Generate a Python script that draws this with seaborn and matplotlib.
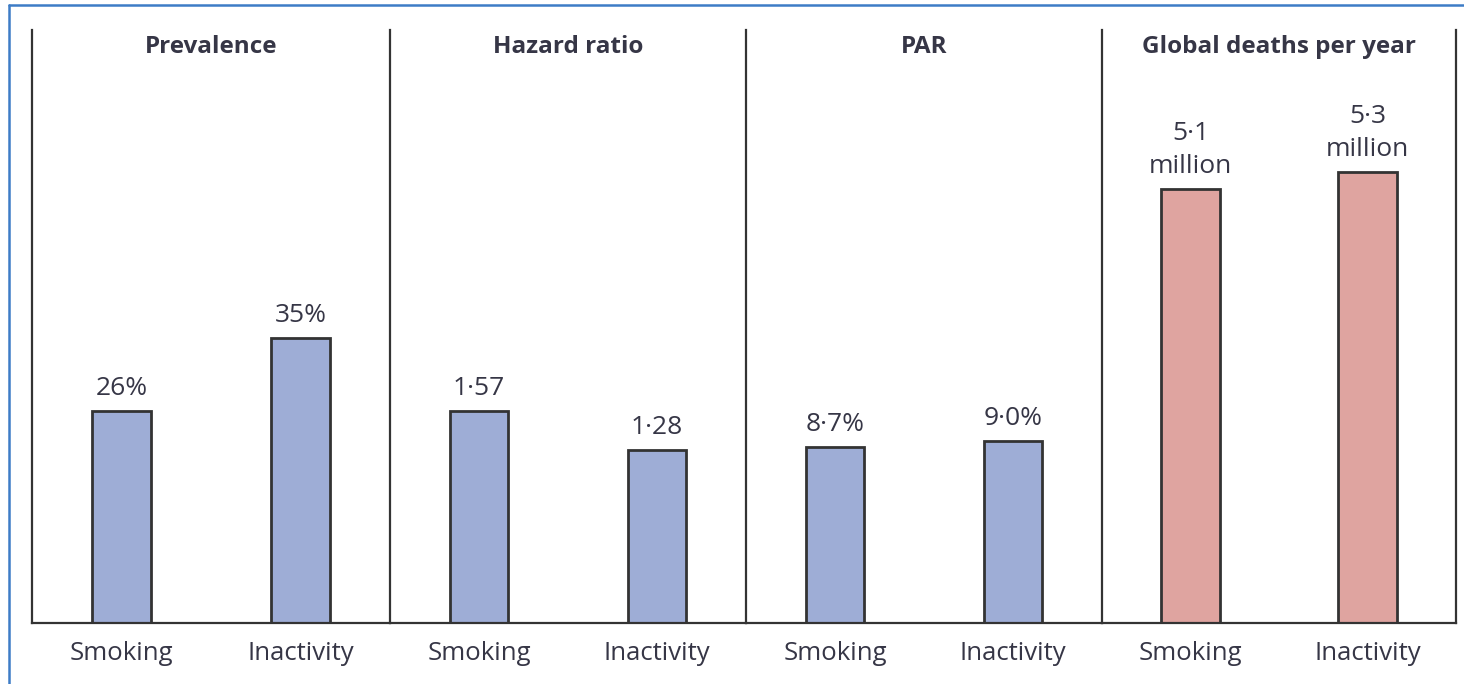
import matplotlib
matplotlib.use("Agg")
import matplotlib.pyplot as plt
import seaborn as sns
import pandas as pd
from matplotlib.lines import Line2D

# ---- data ----
panels = ["Prevalence", "Hazard ratio", "PAR", "Global deaths per year"]
categories = ["Smoking", "Inactivity"]
prevalence = [26, 35]
hazard_ratio = [1.57, 1.28]
par = [8.7, 9.0]
global_deaths = [5.1, 5.3]
prevalence_labels = ["26%", "35%"]
hazard_labels = ["1·57", "1·28"]
par_labels = ["8·7%", "9·0%"]
deaths_labels = ["5·1\nmillion", "5·3\nmillion"]

series = [prevalence, hazard_ratio, par, global_deaths]
labels = [prevalence_labels, hazard_labels, par_labels, deaths_labels]
colors = ["#9eadd6", "#9eadd6", "#9eadd6", "#dfa4a0"]
ymax = [72.7, 4.39, 29.3, 6.97]

sns.set_style("white")
plt.rcParams["font.family"] = ["Open Sans", "DejaVu Sans"]
text_color = "#363646"
line_color = "#333333"

W, H = 1464, 684
fig = plt.figure(figsize=(W / 100, H / 100), dpi=100)

edges_px = [32, 390, 746, 1102, 1456]
top_px, bottom_px = 30, 623

for i in range(4):
    x0, x1 = edges_px[i], edges_px[i + 1]
    ax = fig.add_axes([x0 / W, 1 - bottom_px / H, (x1 - x0) / W, (bottom_px - top_px) / H])
    df = pd.DataFrame({"category": categories, "value": series[i]})
    sns.barplot(data=df, x="category", y="value", ax=ax, color=colors[i],
                width=0.33, edgecolor=line_color, linewidth=2, saturation=1)
    ax.set_xlim(-0.5, 1.5)
    ax.set_ylim(0, ymax[i])
    for s in ["top", "right"]:
        ax.spines[s].set_visible(False)
    if i == 3:
        ax.spines["right"].set_visible(True)
    for s in ["left", "bottom", "right"]:
        ax.spines[s].set_color(line_color)
        ax.spines[s].set_linewidth(1.6)
    ax.set_yticks([])
    ax.set_xticks([-0.5, 0.5, 1.5])
    ax.set_xticklabels([])
    ax.set_xticks([0, 1], minor=True)
    ax.set_xticklabels(categories, minor=True, fontsize=18.5, color=text_color)
    ax.tick_params(axis="x", which="major", length=10, width=1.6, color=line_color, direction="out")
    ax.tick_params(axis="x", which="minor", length=0, pad=13)
    ax.set_xlabel("")
    ax.set_ylabel("")
    ax.text(0.5, 0.972, panels[i], transform=ax.transAxes, ha="center", va="center",
            fontsize=17.5, fontweight="bold", color=text_color)
    for j, p in enumerate(ax.patches):
        ax.annotate(labels[i][j], (p.get_x() + p.get_width() / 2, p.get_height()),
                    xytext=(0, 7), textcoords="offset points", ha="center", va="bottom",
                    fontsize=19, color=text_color, linespacing=1.45)

frame_color = "#3d7cc6"
fig.add_artist(Line2D([9 / W, 1], [1 - 5 / H, 1 - 5 / H], transform=fig.transFigure,
                      color=frame_color, linewidth=1.8))
fig.add_artist(Line2D([9 / W, 9 / W], [0, 1 - 5 / H], transform=fig.transFigure,
                      color=frame_color, linewidth=1.8))

fig.savefig("out.png", dpi=100)
